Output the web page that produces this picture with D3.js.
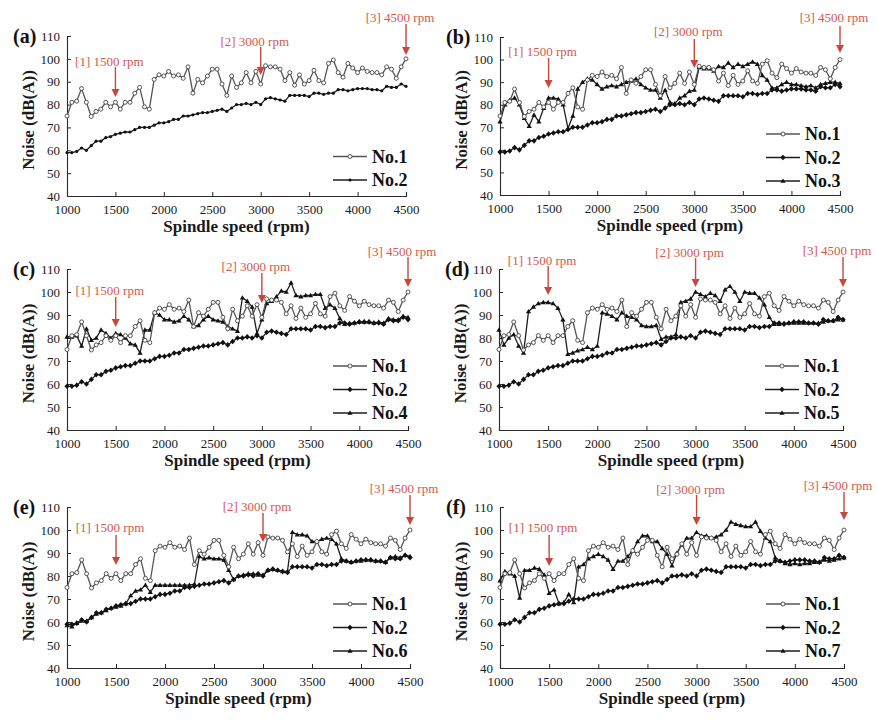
<!DOCTYPE html>
<html><head><meta charset="utf-8">
<script src="https://cdn.jsdelivr.net/npm/d3@7"></script>
<style>
html,body{margin:0;padding:0;background:#fff;}
svg{display:block;}
text{font-family:"Liberation Serif","Times New Roman",serif;}
</style></head>
<body>
<svg id="chart" width="877" height="722"></svg>
<script>
// ---------------- DATA ----------------
const rpm = [1000,1050,1100,1150,1200,1250,1300,1350,1400,1450,
             1500,1550,1600,1650,1700,1750,1800,1850,1900,1950,
             2000,2050,2100,2150,2200,2250,2300,2350,2400,2450,
             2500,2550,2600,2650,2700,2750,2800,2850,2900,2950,
             3000,3050,3100,3150,3200,3250,3300,3350,3400,3450,
             3500,3550,3600,3650,3700,3750,3800,3850,3900,3950,
             4000,4050,4100,4150,4200,4250,4300,4350,4400,4450,4500];

const no1 = [75,81,81.5,87,81,74.8,77,78,81,79,
             81,78,81,81,85,87.5,79,78,91,93,
             92.5,94.5,92.5,93,91.5,96.5,85,91,89.5,92.5,
             95.5,95.5,89,84,92.5,87.5,89.5,94,89.5,94.5,
             89,97,96.5,96.5,95.5,90.5,94,88.5,93,89,
             90.5,95,90.5,89.5,98,99.5,94,92,98,96,
             94,96,94.5,94,94,93,96.5,95.5,91.5,96.5,100];

const no2 = [59,59,59.5,61,60,62,64,64,65.5,66,
             67,67.5,68,68,69,70,70,70,71,72,
             72,72.5,73.5,73.5,75,75,75.5,76,76.5,76.5,
             77,77.5,78,77,78.5,80,80,80.5,80,81,
             80,82.5,83,82.5,82,81.5,84,84,84,84,
             83.5,85,85,84.5,85,85,86.5,86.5,86,86.5,
             87,87,87,86.5,86.5,86,88,87.5,87.5,89,88];

const no3 = [72.5,80,82,83,80,74,70.5,75.5,72.5,78.5,
             83,83,82.5,80,69.5,75,87,90,91.5,91,
             89,87,88,88.5,88,89,90,90.5,91.5,89,
             87.5,86.5,86.5,83,86.5,81,80.5,83,84,86,
             86.5,96.5,96,96,95,97,96.5,98.5,96.5,98,
             97,98,99,98,93,91,87.5,87.5,89,90,
             89,89,88.5,88,88.5,87.5,89,89.5,90,90,89.5];

const no4 = [80.5,80.5,81,76.5,84,79,80,83.5,82,80,
             82,81.5,80,77.5,77,73.5,83.5,83.5,91,90,
             88,88,87,87.5,89.5,88,85,85.5,88,89.5,
             88,87.5,87,85,84,83,97.5,96,93.5,82,
             88,95,96,98,100.5,100,104,98.5,98,98.5,
             98.5,99,99,93,94.5,93,88.5,86,86.5,86.5,
             87,87,87,86.5,87,86.5,88.5,88,88,89.5,89];

const no5 = [83.5,77,80,81.5,76.5,73.5,91.5,93.5,95,95.5,
             95.5,95,93,88,73,73.5,74.5,75,76,75,
             76.5,91,90.5,89.5,88,91,89.5,89,88,85.5,
             85,85,85.5,79.5,80.5,80.5,81.5,95.5,96,97,
             100,99,98,99.5,98.5,96,101,102.5,100,96,
             100,99.5,99.5,97.5,94.5,89,86,86,86.5,86.5,
             86.5,86.5,86.5,86.5,86.5,86.5,87,87.5,87.5,88,88];

const no6 = [58.5,58,59.5,60.5,60.5,62,63.5,64,65,66,
             66.5,67,68,71.5,73.5,74,76,73,76,76,
             76,76,76,76,76,76,76.5,88.5,87.5,88,
             87.5,87.5,87,82.5,78.5,80,80.5,81,81,80.5,
             80.5,82.5,83,82.5,82,82,99,98,98,97.5,
             95,95,96,96.5,96,94,87.5,86.5,86,86.5,
             86.5,87,87,86.5,86.5,86,88,88.5,88,89,88.5];

const no7 = [78,82,81,80,70.5,82.5,82.5,83.5,83,80.5,
             72.5,74,68,68.5,72,68.5,84,85,87.5,88.5,
             89.5,88.5,87,83,86.5,86.5,88.5,91,95,97.5,
             97.5,95,95,92,89.5,84.5,90,93.5,96.5,96.5,
             99,97.5,97.5,96.5,97,98,100,103.5,102.5,102,
             101.5,101.5,103.5,99.5,96.5,95,88,86.5,85.5,85,
             85.5,85,85.5,85.5,86,86,87,86.5,87,87.5,88];

const xTicks = [1000,1500,2000,2500,3000,3500,4000,4500];
const yTicks = [40,50,60,70,80,90,100,110];
const markSpeeds = [1500,3000,4500];
const markLabels = ["[1] 1500 rpm","[2] 3000 rpm","[3] 4500 rpm"];
const panelLabels = ["(a)","(b)","(c)","(d)","(e)","(f)"];
const panelSeries = [["No.1","No.2"],["No.1","No.2","No.3"],["No.1","No.2","No.4"],
                     ["No.1","No.2","No.5"],["No.1","No.2","No.6"],["No.1","No.2","No.7"]];
const seriesData = {"No.1":no1,"No.2":no2,"No.3":no3,"No.4":no4,"No.5":no5,"No.6":no6,"No.7":no7};

// ---------------- LAYOUT ----------------
const boxes = [
  {x0:67, x1:406, y0:36,  y1:196},
  {x0:500,x1:840, y0:37,  y1:195},
  {x0:67, x1:408, y0:269, y1:430},
  {x0:499,x1:843, y0:269, y1:430},
  {x0:67, x1:410, y0:507, y1:668},
  {x0:500,x1:844, y0:507, y1:668}
];
// annotation [text centre, arrow top, arrow tip] relative to plot top
const annLayout = [
  [[26,31,61],[6,11,39],[-18,-12,19]],
  [[15,21,51],[-5,2,31],[-19,-11,16]],
  [[22,28,58],[-2,4,34],[-17,-12,18]],
  [[-8,-3,26],[-16,-11,18],[-18,-12,18]],
  [[21,28,58],[0,6,35],[-18,-12,18]],
  [[21,28,59],[-17,-12,18],[-21,-15,13]]
];

const svg = d3.select("#chart");
const red = "#c9463d", redText = "#d4584e", axisCol = "#2b2b2b";

function drawMarker(g, name, x, y, panelIdx){
  if(name==="No.1"){
    g.append("circle").attr("cx",x).attr("cy",y).attr("r",2)
      .attr("fill","#fff").attr("stroke","#444").attr("stroke-width",0.9);
  } else if(name==="No.2"){
    if(panelIdx===0){
      g.append("circle").attr("cx",x).attr("cy",y).attr("r",1.6).attr("fill","#111");
    } else {
      g.append("path").attr("d",`M${x},${y-2.8}L${x+2.6},${y}L${x},${y+2.8}L${x-2.6},${y}Z`).attr("fill","#111");
    }
  } else {
    g.append("path").attr("d",`M${x},${y-2.6}L${x+2.6},${y+1.8}L${x-2.6},${y+1.8}Z`).attr("fill","#111");
  }
}

boxes.forEach((b,pi)=>{
  const g = svg.append("g");
  const x = d3.scaleLinear().domain([1000,4500]).range([b.x0,b.x1]);
  const y = d3.scaleLinear().domain([40,110]).range([b.y1,b.y0]);

  // axes
  const xa = g.append("g").attr("transform",`translate(0,${b.y1})`)
    .call(d3.axisBottom(x).tickValues(xTicks).tickSize(-4).tickPadding(9).tickFormat(d3.format("d")));
  const ya = g.append("g").attr("transform",`translate(${b.x0},0)`)
    .call(d3.axisLeft(y).tickValues(yTicks).tickSize(-4).tickPadding(7));
  [xa,ya].forEach(a=>{
    a.select(".domain").attr("stroke",axisCol).attr("stroke-width",1.1);
    a.selectAll(".tick line").attr("stroke",axisCol);
    a.selectAll(".tick text").attr("fill","#1a1a1a").style("font-size","13px")
      .style("font-family","'Liberation Serif',serif");
  });
  ya.selectAll(".tick text").attr("dy","0.32em");

  // axis titles
  g.append("text").attr("x",(b.x0+b.x1)/2).attr("y",b.y1+36).attr("text-anchor","middle")
    .attr("font-weight","bold").attr("font-size","17px").attr("fill","#1a1a1a")
    .text("Spindle speed (rpm)");
  g.append("text").attr("transform",`translate(${b.x0-33},${(b.y0+b.y1)/2+4}) rotate(-90)`)
    .attr("text-anchor","middle").attr("font-weight","bold").attr("font-size","17px").attr("fill","#1a1a1a")
    .text("Noise (dB(A))");
  // panel label
  g.append("text").attr("x",b.x0-54).attr("y",b.y0+7).attr("font-weight","bold")
    .attr("font-size","20px").attr("fill","#111").text(panelLabels[pi]);

  // series
  const names = panelSeries[pi];
  const order = names.slice(1).concat([names[0]]);
  order.forEach(name=>{
    const vals = seriesData[name];
    const pts = rpm.map((r,i)=>[x(r),y(vals[i])]);
    g.append("path").attr("d",d3.line()(pts)).attr("fill","none")
      .attr("stroke", name==="No.1" ? "#555" : "#1e1e1e").attr("stroke-width",1.3);
    const mg = g.append("g");
    pts.forEach(p=>drawMarker(mg,name,p[0],p[1],pi));
  });

  // legend
  names.forEach((name,i)=>{
    const cy = b.y0 + 144 - (names.length-1-i)*23.5;
    const lx0 = b.x0+266, lx1 = b.x0+300;
    g.append("line").attr("x1",lx0).attr("x2",lx1).attr("y1",cy).attr("y2",cy)
      .attr("stroke", name==="No.1" ? "#555" : "#1e1e1e").attr("stroke-width",1.4);
    drawMarker(g,name,(lx0+lx1)/2,cy,pi);
    g.append("text").attr("x",b.x0+305).attr("y",cy+6).attr("font-weight","bold")
      .attr("font-size","18px").attr("fill","#111").text(name);
  });

  // annotations
  markSpeeds.forEach((s,k)=>{
    const [tc,at,tip] = annLayout[pi][k];
    const ax = x(s);
    g.append("text").attr("x",ax-6).attr("y",b.y0+tc+4).attr("text-anchor","middle")
      .attr("font-size","13px").attr("fill",redText).text(markLabels[k]);
    g.append("line").attr("x1",ax).attr("x2",ax).attr("y1",b.y0+at).attr("y2",b.y0+tip-6)
      .attr("stroke",red).attr("stroke-width",1.4);
    g.append("path").attr("d",`M${ax-4},${b.y0+tip-8}L${ax+4},${b.y0+tip-8}L${ax},${b.y0+tip}Z`)
      .attr("fill",red);
  });
});
</script>
</body></html>
